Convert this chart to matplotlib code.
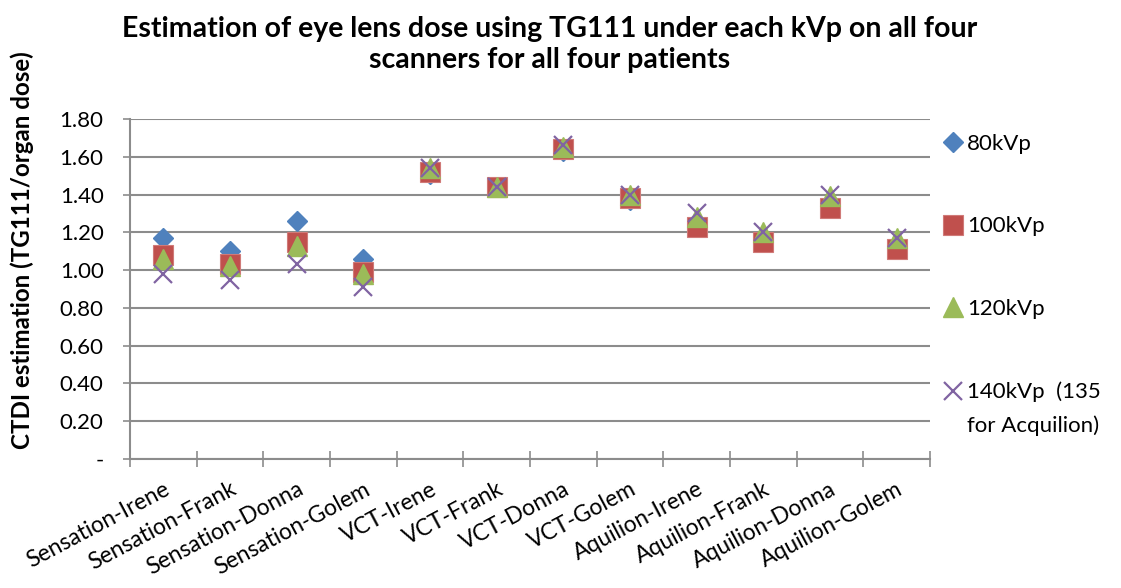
import matplotlib
matplotlib.use('Agg')
import matplotlib.pyplot as plt

plt.rcParams['font.family'] = ['Lato', 'DejaVu Sans']

categories = ['Sensation-Irene', 'Sensation-Frank', 'Sensation-Donna', 'Sensation-Golem',
              'VCT-Irene', 'VCT-Frank', 'VCT-Donna', 'VCT-Golem',
              'Aquilion-Irene', 'Aquilion-Frank', 'Aquilion-Donna', 'Aquilion-Golem']

kvp80 = [1.17, 1.10, 1.26, 1.06, 1.51, 1.44, 1.63, 1.37, 1.23, 1.16, 1.33, 1.11]
kvp100 = [1.08, 1.03, 1.15, 0.99, 1.52, 1.44, 1.64, 1.38, 1.23, 1.15, 1.33, 1.11]
kvp120 = [1.06, 1.02, 1.13, 0.98, 1.54, 1.44, 1.65, 1.40, 1.28, 1.20, 1.39, 1.17]
kvp140 = [0.98, 0.95, 1.03, 0.91, 1.54, 1.44, 1.66, 1.40, 1.30, 1.20, 1.40, 1.17]

series_labels = ['80kVp', '100kVp', '120kVp', '140kVp  (135']
yticks = [0, 0.2, 0.4, 0.6, 0.8, 1.0, 1.2, 1.4, 1.6, 1.8]
ytick_labels = ['-', '0.20', '0.40', '0.60', '0.80', '1.00', '1.20', '1.40', '1.60', '1.80']

blue = '#4F81BD'
red = '#C0504D'
green = '#9BBB59'
purple = '#8064A2'
grid = '#8C8C8C'

fig = plt.figure(figsize=(11.21, 5.88), dpi=100)
ax = fig.add_axes([0.116, 0.2194, 0.7136, 0.5782])

x = list(range(len(categories)))
ax.plot(x, kvp80, linestyle='none', marker='D', ms=10.5, color=blue, mec=blue, label=series_labels[0])
ax.plot(x, kvp100, linestyle='none', marker='s', ms=14, color=red, mec='#D07A78', mew=0.8, label=series_labels[1])
ax.plot(x, kvp120, linestyle='none', marker='^', ms=14, color=green, mec=green, label=series_labels[2])
ax.plot(x, kvp140, linestyle='none', marker='x', ms=13, color=purple, mew=1.6, label=series_labels[3])

ax.set_xlim(-0.5, len(categories) - 0.5)
ax.set_ylim(0, 1.8)
ax.set_yticks(yticks)
ax.set_yticklabels(ytick_labels, fontsize=16)
ax.yaxis.grid(True, color=grid, linewidth=1.5)
ax.set_axisbelow(True)

ax.set_xticks(x)
ax.set_xticklabels(categories, rotation=28, ha='right', va='top', rotation_mode='anchor', fontsize=16.5)
ax.tick_params(axis='x', length=0, pad=14)
ax.set_xticks([i - 0.5 for i in range(len(categories) + 1)], minor=True)
ax.tick_params(axis='x', which='minor', direction='inout', length=11, width=1.2, color=grid)
ax.tick_params(axis='y', length=5, width=1.2, color=grid, pad=14)

for s in ['top', 'right']:
    ax.spines[s].set_visible(False)
for s in ['left', 'bottom']:
    ax.spines[s].set_color(grid)
    ax.spines[s].set_linewidth(1.5)

fig.text(22 / 1121, 0.575, 'CTDI estimation (TG111/organ dose)', rotation=90,
         ha='center', va='center', fontsize=17.4, fontweight='bold')

fig.text(0.49, 0.924, 'Estimation of eye lens dose using TG111 under each kVp on all four\nscanners for all four patients',
         ha='center', va='center', fontsize=20.5, fontweight='bold', linespacing=1.25)

leg = ax.legend(loc='upper left', bbox_to_anchor=(0.8403, 0.7725), bbox_transform=fig.transFigure,
                frameon=False, fontsize=16, labelspacing=2.82, handletextpad=0.14,
                handlelength=1.0, borderaxespad=0, borderpad=0)
fig.text(0.8626, 0.2755, 'for Acquilion)', fontsize=16, va='center', ha='left')

fig.savefig('out.png', dpi=100)
